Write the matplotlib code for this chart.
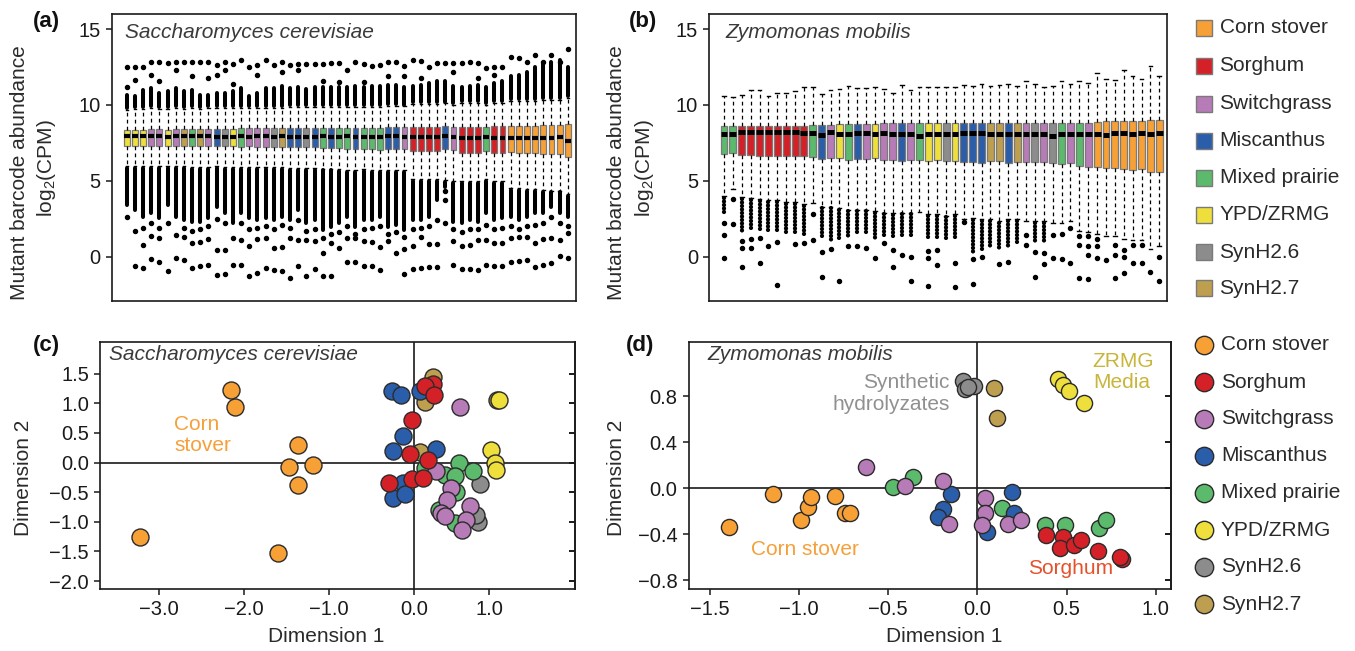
import numpy as np
import matplotlib
matplotlib.use("Agg")
import matplotlib.pyplot as plt
from matplotlib.patches import Rectangle

plt.rcParams['font.family'] = ['Liberation Sans', 'DejaVu Sans']
plt.rcParams['mathtext.fontset'] = 'custom'
plt.rcParams['mathtext.rm'] = 'Liberation Sans'
plt.rcParams['mathtext.it'] = 'Liberation Sans:italic'

nan = np.nan

# ---------------- categories ----------------
CODES = ['O', 'R', 'P', 'B', 'G', 'Y', 'Gr', 'T']
NAMES = ['Corn stover', 'Sorghum', 'Switchgrass', 'Miscanthus',
         'Mixed prairie', 'YPD/ZRMG', 'SynH2.6', 'SynH2.7']
COLORS = ['#F7A035', '#D42128', '#B77BB8', '#2A5DAA',
          '#5BBA6C', '#EEDF3C', '#8C8C8C', '#BE9E4F']
COL = dict(zip(CODES, COLORS))

# ---------------- panel (a): S. cerevisiae boxplots ----------------
groups_a = ['Y','Y','Y','P','P','Y','P','T','G','T',
            'P','B','Gr','Y','G','P','P','P','Gr','T',
            'B','B','Gr','B','G','B','G','G','B','G',
            'G','G','B','B','P','R','R','R','R','B',
            'P','R','R','R','G','R','R','O','O','O',
            'O','O','O','O','O']
q3_a = [8.36,8.36,8.37,8.42,8.42,8.38,8.42,8.42,8.42,8.42,
        8.44,8.44,8.43,8.44,8.46,8.47,8.47,8.47,8.46,8.46,
        8.47,8.47,8.48,8.48,8.51,8.50,8.50,8.47,8.47,8.50,
        8.50,8.50,8.53,8.53,8.52,8.54,8.54,8.54,8.54,8.62,
        8.55,8.54,8.54,8.54,8.55,8.58,8.58,8.64,8.64,8.64,
        8.64,8.69,8.69,8.69,8.75]
q1_a = [7.30,7.30,7.28,7.32,7.32,7.30,7.30,7.30,7.28,7.28,
        7.28,7.30,7.28,7.26,7.24,7.26,7.24,7.24,7.24,7.24,
        7.20,7.20,7.22,7.20,7.15,7.16,7.14,7.08,7.08,7.10,
        7.08,7.06,7.08,7.08,7.08,6.93,6.93,6.95,6.95,7.08,
        7.00,6.82,6.80,6.82,6.95,6.82,6.80,6.88,6.86,6.86,
        6.84,6.78,6.76,6.76,6.56]
med_a = [7.92,7.93,7.92,7.95,7.95,7.90,7.93,7.92,7.92,7.93,
         7.94,7.90,7.90,7.88,7.93,7.88,7.93,7.92,7.90,7.92,
         7.88,7.88,7.90,7.88,7.92,7.88,7.90,7.92,7.88,7.90,
         7.88,7.88,7.95,7.95,7.88,7.86,7.86,7.86,7.86,7.98,
         7.90,7.84,7.84,7.84,7.90,7.84,7.84,7.85,7.85,7.85,
         7.83,7.85,7.82,7.88,7.65]
whi_a = [9.70,9.72,9.75,9.78,9.75,9.72,9.78,9.75,9.78,9.75,
         9.80,9.80,9.78,9.80,9.82,9.80,9.82,9.80,9.82,9.82,
         9.85,9.85,9.85,9.85,9.88,9.88,9.88,9.85,9.85,9.88,
         9.88,9.88,9.92,9.92,9.90,10.05,10.05,10.05,10.05,10.10,
         9.98,10.15,10.15,10.15,10.00,10.15,10.15,10.25,10.25,10.25,
         10.25,10.35,10.35,10.35,10.45]
wlo_a = [5.95,5.95,5.95,5.95,5.98,5.95,5.95,5.95,5.92,5.92,
         5.92,5.95,5.92,5.90,5.88,5.90,5.88,5.88,5.88,5.88,
         5.85,5.85,5.85,5.85,5.80,5.80,5.78,5.72,5.72,5.75,
         5.72,5.70,5.72,5.72,5.72,5.10,5.10,5.10,5.10,5.06,
         5.00,5.00,5.00,5.00,5.10,5.00,5.00,4.50,4.50,4.45,
         4.45,4.40,4.35,4.35,4.10]
# dense runs of low / high outliers (end values of the solid run)
lo_run_a = [3.41,3.08,2.64,2.86,2.53,3.41,2.64,2.42,2.31,2.31,
            2.53,3.30,2.86,2.20,2.86,2.53,2.42,2.53,2.42,2.64,
            2.42,3.08,2.20,2.42,1.77,1.98,2.20,2.64,1.98,2.42,
            2.42,2.64,1.98,2.09,1.77,2.42,2.42,2.64,3.74,4.60,
            2.31,2.20,2.42,2.31,2.86,2.42,2.53,2.64,2.42,2.64,
            2.86,2.86,3.30,2.86,2.64]
hi_run_a = [10.67,10.56,11.00,11.11,10.78,10.89,11.11,10.89,11.00,10.67,
            10.67,10.78,10.82,10.89,11.11,10.60,10.78,11.11,11.11,11.22,
            11.11,11.17,11.04,11.17,11.17,11.17,11.17,11.17,11.22,11.17,
            11.22,11.26,11.33,11.33,11.17,11.26,11.33,11.44,11.55,11.55,
            11.26,11.17,11.26,11.33,11.17,11.44,11.55,11.88,11.98,12.20,
            12.53,12.75,12.86,12.97,12.53]
lo_out_a = [[2.6],[1.66,-0.65],[0.78,1.9,-0.76],[1.37,2.2,-0.17],[1.2,1.9,-0.39],
            [2.2,-0.98],[1.44,-0.1],[1.28,1.9,-0.26],[0.89,1.7,-0.76],[0.93,1.8,-0.65],
            [1.15,2.0,-0.54],[0.45,2.5,-1.2],[0.45,2.2,-1.13],[1.2,-0.54],[1.1,2.2,-0.59],
            [0.67,1.8,-1.31],[1.15,1.9,-1.09],[1.2,2.0,-0.76],[0.56,1.8,-0.92],[0.62,2.1,-0.98],
            [1.2,1.9,-1.42],[1.1,2.4,-0.61],[1.1,1.7,-1.27],[1.0,1.8,-0.83],[0.23,1.2,-1.27],
            [0.89,1.5,-1.27],[0.56,1.6],[1.2,2.0,-0.39],[1.2,1.5,-0.39],[1.0,1.8,-0.61],
            [0.93,1.9,-0.65],[0.62,2.0,-0.92],[1.0,1.5],[0.23,1.6],[0.49,1.3,-1.16],
            [0.67,1.8,-0.83],[1.3,1.9,-0.76],[0.84,2.0,-0.72],[0.84,2.4,-0.72],[4.3,3.75,2.2],
            [1.0,1.8,-0.59],[0.71,1.6,-0.83],[0.78,1.8,-0.83],[1.1,1.8,-0.92],[1.06,2.1,-0.54],
            [0.89,1.8,-0.65],[0.89,1.9,-0.65],[1.2,2.0,-0.39],[1.28,1.8,-0.32],[1.28,2.0,-0.21],
            [0.89,2.1,-0.72],[1.15,2.2,-0.54],[1.2,2.6,-0.43],[1.1,2.2,0.05],[1.55,2.0,-0.1]]
hi_out_a = [[11.17,12.53],[11.66,12.53],[12.53],[12.0,12.86],[11.6,12.86],
            [12.75],[12.3,12.86],[12.86],[11.9,12.86],[12.86],
            [11.8,12.86],[12.0,12.64],[12.3,12.86],[11.4,12.69],[12.97],
            [12.53],[12.0,12.64],[12.97],[12.64],[12.2,12.86],
            [12.64],[12.3,12.69],[12.69],[12.69],[11.6,12.69],
            [12.75],[11.5,12.8],[12.31],[12.86],[11.5,12.69],
            [12.58],[12.64],[11.9,12.86],[12.86],[11.9,12.58],
            [12.97],[11.8,12.91],[12.53],[12.75],[12.75],
            [12.2,12.75],[12.8],[12.86],[11.8,12.75],[12.42],
            [12.0,12.53],[12.53],[13.19],[13.08],[12.86],
            [13.3],[12.86],[13.3],[12.86],[13.68]]

# ---------------- panel (b): Z. mobilis boxplots ----------------
groups_b = ['G','G','R','R','R','R','R','R','R','R',
            'G','B','P','Y','G','B','P','Y','P','P',
            'B','P','G','Y','Y','Gr','Y','B','B','B',
            'T','T','B','T','P','Gr','P','Gr','G','P',
            'G','P','O','O','O','O','O','O','O','O']
q3_b = [8.60,8.60,8.60,8.60,8.60,8.60,8.60,8.60,8.60,8.60,
        8.67,8.67,8.70,8.73,8.73,8.73,8.73,8.73,8.78,8.78,
        8.78,8.78,8.78,8.78,8.78,8.78,8.78,8.78,8.78,8.78,
        8.78,8.78,8.78,8.78,8.78,8.80,8.80,8.82,8.82,8.82,
        8.82,8.82,8.90,8.93,8.96,8.96,8.96,8.96,8.98,8.98]
q1_b = [6.78,6.80,6.67,6.67,6.65,6.65,6.65,6.63,6.62,6.62,
        6.56,6.44,6.50,6.50,6.40,6.44,6.46,6.50,6.38,6.38,
        6.33,6.38,6.38,6.33,6.36,6.29,6.33,6.22,6.22,6.20,
        6.29,6.29,6.16,6.22,6.22,6.22,6.22,6.16,6.11,6.16,
        6.00,5.93,5.89,5.85,5.83,5.80,5.70,5.75,5.56,5.58]
med_b = [8.11,8.11,8.22,8.22,8.20,8.20,8.20,8.20,8.20,8.18,
         8.15,8.00,8.20,8.11,8.11,8.15,8.15,8.11,8.15,8.11,
         8.11,8.11,7.93,8.11,8.11,8.11,8.11,8.13,8.13,8.13,
         8.11,8.11,8.11,8.11,8.09,8.11,8.09,7.96,8.09,8.11,
         8.09,8.11,8.11,8.02,8.15,8.13,8.11,8.15,8.07,8.15]
whi_b = [10.62,10.51,10.67,11.00,11.00,10.56,10.78,10.82,10.89,11.16,
         11.16,10.71,11.00,11.04,11.27,11.11,11.11,11.16,11.04,10.78,
         11.33,10.96,11.16,11.16,11.18,11.18,11.18,11.33,11.27,11.38,
         11.22,11.33,11.38,11.27,11.56,11.38,11.18,11.27,11.56,11.38,
         11.56,11.44,12.11,11.73,11.67,12.29,11.89,11.73,12.56,11.89]
wlo_b = [4.00,4.44,3.90,3.85,3.80,3.70,3.70,3.60,3.60,3.45,
         3.56,3.30,3.30,3.20,3.10,3.10,3.10,3.00,2.90,2.85,
         2.90,2.90,2.93,2.80,2.80,2.70,2.80,2.45,2.55,2.45,
         2.45,2.35,2.45,2.45,2.33,2.35,2.35,2.22,2.22,2.35,
         1.71,1.62,1.51,1.33,1.33,1.18,1.07,1.07,0.51,0.67]
lo_run_b = [2.78,nan,1.67,1.89,1.67,1.56,1.56,1.44,1.44,1.44,
            nan,1.22,1.00,1.11,1.33,1.44,1.44,1.11,1.22,1.33,
            1.33,1.22,nan,1.22,1.22,1.11,1.11,nan,0.33,0.44,
            0.56,0.56,0.67,0.78,nan,1.00,1.00,nan,nan,nan,
            nan,nan,nan,nan,nan,nan,nan,nan,nan,nan]
lo_out_b = [[2.22,1.44,-0.11],[3.78,2.16],[1.0,0.56,-0.67],[1.18,0.56],[1.22,-0.44],
            [0.67],[0.96,-1.89],[],[0.82],[0.89],
            [2.78,1.11],[0.29,-1.33],[0.5],[-1.62],[0.67],
            [0.67],[0.56],[-0.11],[0.89],[0.44,-0.71],
            [0.07],[-0.04,-1.62],[],[0.38,-0.07,-1.93],[0.44,-0.56],
            [],[-0.44,-2.0],[2.3],[-0.16,-1.78],[0.0],
            [],[-0.51],[-0.33],[],[1.44,0.78],
            [0.33,-1.36],[0.22,-0.47],[1.44,-0.11],[1.5,-0.16],[1.89,-0.44],
            [1.33,0.78,-1.4],[1.33,0.67,0.07,-1.49],[1.18,0.67,-0.07],[-0.22],[0.78,0.07,-1.44],
            [0.44,0.0,-1.11],[0.78,-0.44],[0.78,-0.44],[-1.0],[0.0,-1.62]]

# ---------------- panel (c): S. cerevisiae MDS ----------------
sc_x = {
    'O': [-2.147, -2.10, -1.361, -1.473, -1.19, -1.361, -3.225, -1.60],
    'R': [0.229, 0.135, 0.238, -0.027, -0.045, 0.166, -0.288, -0.018, 0.103],
    'P': [0.548, 0.256, 0.436, 0.391, 0.324, 0.66, 0.616, 0.57, 0.37],
    'B': [-0.26, -0.149, 0.067, -0.126, -0.247, 0.256, -0.126, -0.247, -0.10],
    'G': [0.526, 0.692, 0.369, 0.48, 0.135, 0.50, 0.30, 0.48],
    'Y': [0.997, 0.907, 0.952, 0.965],
    'Gr': [0.773, 0.75, 0.73],
    'T': [0.229, 0.135, 0.067, 0.98],
}
sc_y = {
    'O': [1.228, 0.93, 0.30, -0.07, -0.04, -0.377, -1.26, -1.52],
    'R': [1.33, 1.29, 1.144, 0.71, 0.14, 0.045, -0.34, -0.28, -0.26],
    'P': [0.93, -0.15, -0.43, -0.63, -0.855, -0.74, -0.97, -1.14, -0.9],
    'B': [1.21, 1.144, 1.21, 0.44, 0.198, 0.23, -0.35, -0.60, -0.53],
    'G': [-0.01, -0.15, -0.21, -0.23, -0.10, -0.50, -0.80, -1.02],
    'Y': [1.05, 0.215, 0.0, -0.13],
    'Gr': [-0.36, -1.01, -0.89],
    'T': [1.44, 1.03, 0.175, 1.05],
}
# ---------------- panel (d): Z. mobilis MDS ----------------
zm_x = {
    'O': [-1.395, -1.148, -0.992, -0.949, -0.932, -0.799, -0.745, -0.717],
    'P': [-0.623, -0.407, -0.193, -0.16, 0.041, 0.041, 0.026, 0.172, 0.244],
    'G': [-0.471, -0.364, 0.139, 0.379, 0.493, 0.679, 0.722],
    'B': [-0.15, -0.193, -0.22, 0.051, 0.191, 0.204],
    'R': [0.386, 0.482, 0.465, 0.54, 0.578, 0.675, 0.808, 0.80],
    'Gr': [-0.08, -0.07, -0.02, -0.055],
    'T': [0.09, 0.112],
    'Y': [0.45, 0.48, 0.512, 0.60],
}
zm_y = {
    'O': [-0.334, -0.052, -0.276, -0.165, -0.073, -0.067, -0.212, -0.212],
    'P': [0.188, 0.023, 0.064, -0.31, -0.087, -0.212, -0.32, -0.31, -0.276],
    'G': [0.014, 0.10, -0.174, -0.32, -0.32, -0.348, -0.276],
    'B': [-0.05, -0.183, -0.247, -0.377, -0.03, -0.212],
    'R': [-0.406, -0.42, -0.522, -0.493, -0.45, -0.545, -0.615, -0.60],
    'Gr': [0.93, 0.86, 0.89, 0.88],
    'T': [0.87, 0.61],
    'Y': [0.948, 0.90, 0.846, 0.739],
}

# ---------------- figure ----------------
W, H = 1355, 651
fig = plt.figure(figsize=(W / 100, H / 100), dpi=100)


def add_ax(l, t, r, b):
    return fig.add_axes([l / W, 1 - b / H, (r - l) / W, (b - t) / H])


def ftext(x, y, s, **kw):
    return fig.text(x / W, 1 - y / H, s, **kw)


FRAME = '#1a1a1a'


def style_frame(ax):
    for sp in ax.spines.values():
        sp.set_linewidth(1.2)
        sp.set_color(FRAME)


def draw_boxes(ax, groups, med, q1, q3, wlo, whi, lo_run, lo_out,
               hi_run=None, hi_out=None, width=0.72, medlw=3.0, capw=0.3,
               beaded=False):
    n = len(groups)
    pos = np.arange(1, n + 1)
    stats = []
    for i in range(n):
        fl = list(lo_out[i]) + (list(hi_out[i]) if hi_out is not None else [])
        stats.append(dict(med=med[i], q1=q1[i], q3=q3[i],
                          whislo=wlo[i], whishi=whi[i], fliers=fl))
    bp = ax.bxp(stats, positions=pos, widths=width, patch_artist=True,
                showfliers=True, capwidths=capw,
                boxprops=dict(edgecolor='#7a7a7a', linewidth=0.9),
                medianprops=dict(color='black', linewidth=medlw,
                                 solid_capstyle='butt'),
                whiskerprops=dict(color='black', linewidth=0.9,
                                  linestyle=(0, (3.0, 2.6))),
                capprops=dict(color='black', linewidth=1.0),
                flierprops=dict(marker='o', markersize=2.9,
                                markerfacecolor='black',
                                markeredgecolor='black', linestyle='none'))
    for patch, g in zip(bp['boxes'], groups):
        patch.set_facecolor(COL[g])
    lo_run = np.asarray(lo_run, dtype=float)
    ok = ~np.isnan(lo_run)
    gap = 0.12
    ls = (0, (0.01, 0.8)) if beaded else 'solid'
    lw = 3.1 if beaded else 2.9
    ax.vlines(pos[ok], np.asarray(wlo)[ok] - gap, lo_run[ok],
              color='black', linewidth=lw, capstyle='round',
              linestyles=ls, zorder=3)
    if hi_run is not None:
        ax.vlines(pos, np.asarray(whi) + gap, hi_run, color='black',
                  linewidth=2.9, capstyle='round', zorder=3)


def box_axes_style(ax, xlim):
    ax.set_xlim(*xlim)
    ax.set_ylim(-2.9, 16.0)
    ax.set_xticks([])
    ax.set_yticks([0, 5, 10, 15])
    ax.tick_params(axis='y', direction='out', length=4, width=1.1,
                   labelsize=14.5, pad=4, colors=FRAME)
    style_frame(ax)


# (a)
axa = add_ax(111.7, 14, 576, 300.5)
draw_boxes(axa, groups_a, med_a, q1_a, q3_a, wlo_a, whi_a, lo_run_a, lo_out_a,
           hi_run_a, hi_out_a, width=0.72, medlw=3.0, capw=0.3)
box_axes_style(axa, (-0.84, 56.0))

# (b)
axb = add_ax(709, 14, 1167, 300.5)
draw_boxes(axb, groups_b, med_b, q1_b, q3_b, wlo_b, whi_b, lo_run_b, lo_out_b,
           None, None, width=0.78, medlw=3.6, capw=0.42, beaded=True)
box_axes_style(axb, (-0.69, 50.87))


def scatter_panel(ax, xs, ys, order, s):
    for g in order:
        ax.scatter(xs[g], ys[g], s=s, c=COL[g], edgecolors='#2b2b2b',
                   linewidths=1.0, zorder=3)
    ax.axhline(0, color=FRAME, lw=1.2, zorder=1)
    ax.axvline(0, color=FRAME, lw=1.2, zorder=1)
    style_frame(ax)
    ax.tick_params(axis='both', direction='out', length=4, width=1.1,
                   labelsize=14.5, pad=4, colors=FRAME)


def right_inner_ticks(ax):
    sec = ax.secondary_yaxis('right')
    sec.tick_params(axis='y', direction='in', length=4, width=1.4,
                    colors=FRAME, labelright=False)
    sec.spines['right'].set_linewidth(1.2)
    sec.spines['right'].set_color(FRAME)
    return sec


# (c)
axc = add_ax(100.1, 341.7, 575.1, 589.3)
scatter_panel(axc, sc_x, sc_y, ['T', 'Gr', 'G', 'P', 'B', 'R', 'O', 'Y'], 150)
axc.set_xlim(-3.69, 1.896)
axc.set_ylim(-2.14, 2.04)
axc.set_xticks([-3, -2, -1, 0, 0.885])
axc.set_xticklabels(['\u22123.0', '\u22122.0', '\u22121.0', '0.0', '1.0'])
yt_c = [-2.0, -1.5, -1.0, -0.5, 0.0, 0.5, 1.0, 1.5]
axc.set_yticks(yt_c)
axc.set_yticklabels([f'{v:.1f}'.replace('-', '\u2212') for v in yt_c])
sc_sec = right_inner_ticks(axc)
sc_sec.set_yticks(yt_c)
sc_sec.set_yticklabels([])
axc.text(-2.82, 0.46, 'Corn\nstover', color='#F5A03A', fontsize=15,
         ha='left', va='center', linespacing=1.15)

# (d)
axd = add_ax(688.6, 341.7, 1171.1, 589.3)
scatter_panel(axd, zm_x, zm_y, ['G', 'B', 'P', 'R', 'O', 'Gr', 'T', 'Y'], 135)
axd.set_xlim(-1.62, 1.086)
axd.set_ylim(-0.878, 1.275)
xt_d = [-1.5, -1.0, -0.5, 0.0, 0.5, 1.0]
axd.set_xticks(xt_d)
axd.set_xticklabels([f'{v:.1f}'.replace('-', '\u2212') for v in xt_d])
yt_d = [-0.8, -0.4, 0.0, 0.4, 0.8]
axd.set_yticks(yt_d)
axd.set_yticklabels([f'{v:.1f}'.replace('-', '\u2212') for v in yt_d])
zm_sec = right_inner_ticks(axd)
zm_sec.set_yticks(yt_d)
zm_sec.set_yticklabels([])
axd.text(-0.156, 0.825, 'Synthetic\nhydrolyzates', color='#909090', fontsize=15,
         ha='right', va='center', linespacing=1.15)
axd.text(0.647, 1.012, 'ZRMG\nMedia', color='#C8B53A', fontsize=15,
         ha='left', va='center', linespacing=1.15)
axd.text(-1.27, -0.53, 'Corn stover', color='#F5A03A', fontsize=15,
         ha='left', va='center')
axd.text(0.283, -0.696, 'Sorghum', color='#E5512B', fontsize=15,
         ha='left', va='center')

# ---------------- texts ----------------
TXT = '#2a2a2a'
ftext(125, 33, 'Saccharomyces cerevisiae', fontsize=15, style='italic',
      color='#3a3a3a', ha='left', va='center')
ftext(725, 33, 'Zymomonas mobilis', fontsize=15, style='italic',
      color='#3a3a3a', ha='left', va='center')
ftext(109, 355, 'Saccharomyces cerevisiae', fontsize=15, style='italic',
      color='#3a3a3a', ha='left', va='center')
ftext(707, 355, 'Zymomonas mobilis', fontsize=15, style='italic',
      color='#3a3a3a', ha='left', va='center')

for x, y, s in [(46, 22, '(a)'), (643, 22, '(b)'), (46, 346, '(c)'), (640, 346, '(d)')]:
    ftext(x, y, s, fontsize=16, fontweight='bold', color='#111111',
          ha='center', va='center')

for x0 in (111.7, 709):
    ftext(x0 - 92, 173, 'Mutant barcode abundance', fontsize=15, rotation=90,
          ha='center', va='center', color=TXT)
    ftext(x0 - 65, 168, 'log$_2$(CPM)', fontsize=15, rotation=90,
          ha='center', va='center', color=TXT)

ftext(24, 478, 'Dimension 2', fontsize=15, rotation=90, ha='center',
      va='center', color=TXT)
ftext(616, 478, 'Dimension 2', fontsize=15, rotation=90, ha='center',
      va='center', color=TXT)
ftext(326, 636, 'Dimension 1', fontsize=15, ha='center', va='center', color=TXT)
ftext(944, 636, 'Dimension 1', fontsize=15, ha='center', va='center', color=TXT)

# ---------------- legends ----------------
lg = fig.add_axes([0, 0, 1, 1], zorder=-1)
lg.set_xlim(0, W)
lg.set_ylim(H, 0)
lg.axis('off')
rows1 = [27.7, 65.7, 103.5, 140.5, 177.7, 215, 252.3, 288.3]
for (code, name), yy in zip(zip(CODES, NAMES), rows1):
    lg.add_patch(Rectangle((1196, yy - 8), 16, 16, facecolor=COL[code],
                           edgecolor='#7a7a7a', linewidth=1.0))
    lg.text(1219.5, yy, name, fontsize=15, ha='left', va='center', color=TXT)
rows2 = [345, 382, 418.5, 455.5, 492.5, 530, 567, 604]
for (code, name), yy in zip(zip(CODES, NAMES), rows2):
    lg.scatter([1204], [yy], s=175, c=COL[code], edgecolors='#2b2b2b',
               linewidths=1.0)
    lg.text(1221, yy, name, fontsize=15, ha='left', va='center', color=TXT)

fig.savefig('out.png', dpi=100)
